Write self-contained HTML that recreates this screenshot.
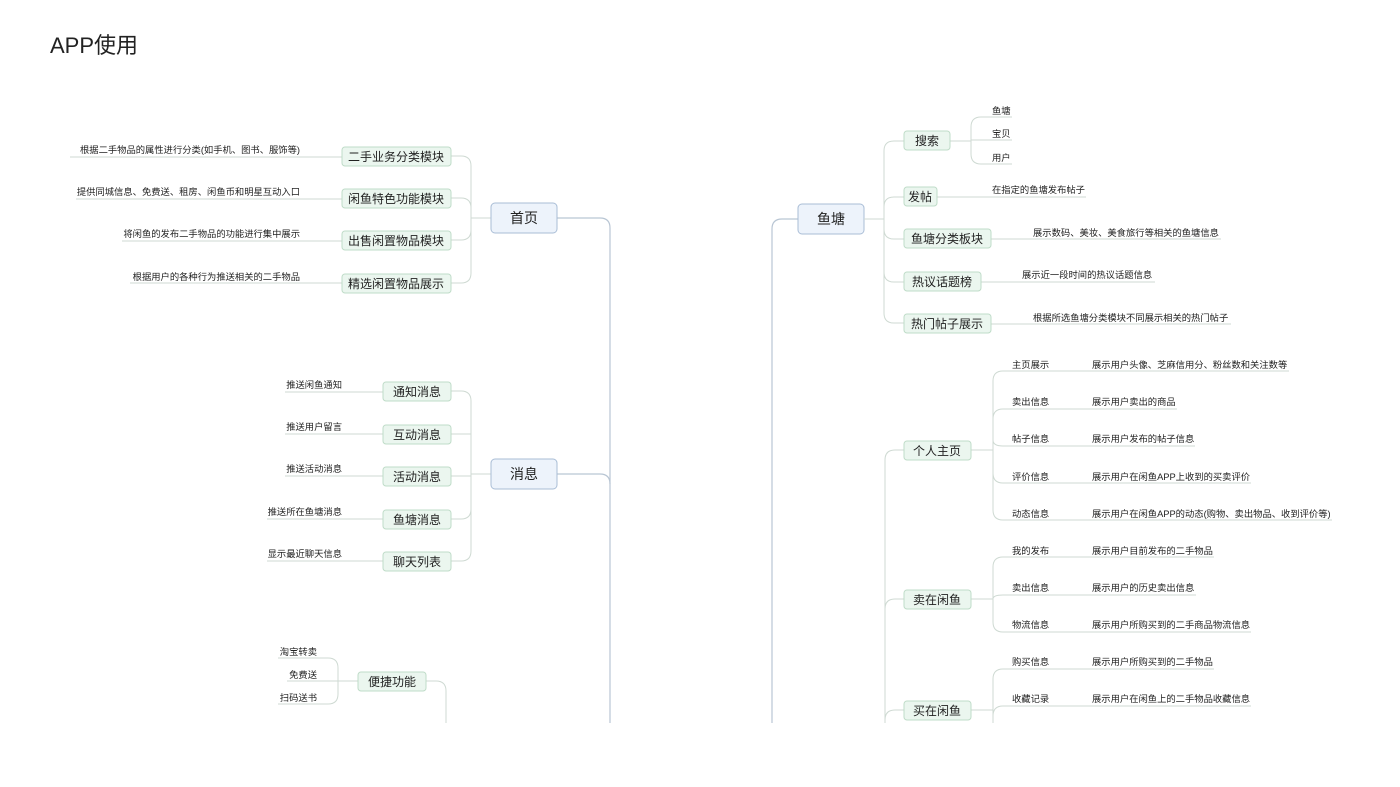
<!DOCTYPE html>
<html><head><meta charset="utf-8"><style>
html,body{margin:0;padding:0;background:#fff;width:1400px;height:787px;overflow:hidden}
svg text{font-family:"Liberation Sans","Noto Sans CJK SC",sans-serif;fill:#222}
.l{font-size:9.3px}
.n{font-size:12px}
.r{font-size:14px}
.ln{fill:none;stroke:#cfdad3;stroke-width:1}
.tk{fill:none;stroke:#b9c6d4;stroke-width:1.2}
.b{fill:#ebf6ef;stroke:#bfdcc8;stroke-width:1}
.rb{fill:#edf3fb;stroke:#a9bdd6;stroke-width:1}
</style></head><body>
<svg width="1400" height="787" viewBox="0 0 1400 787" xmlns="http://www.w3.org/2000/svg">
<text x="50" y="53" style="font-size:22px">APP使用</text>

<!-- trunks -->
<path class="tk" d="M557 218 H600 Q610 218 610 228 V723"/>
<path class="tk" d="M557 474 H600 Q610 474 610 484"/>
<path class="tk" d="M798 219 H782 Q772 219 772 229 V723"/>

<!-- 首页 group -->
<path class="ln" d="M491 218 H471 M451 156 H461 Q471 156 471 166 V273 Q471 283 461 283 H451 M451 198 H461 Q471 198 471 208 M451 240 H461 Q471 240 471 230"/>
<path class="ln" d="M70 157 H342 M76 199 H342 M122 241 H342 M130 283 H342"/>
<text class="l" x="300" y="153" text-anchor="end">根据二手物品的属性进行分类(如手机、图书、服饰等)</text>
<text class="l" x="300" y="195" text-anchor="end">提供同城信息、免费送、租房、闲鱼币和明星互动入口</text>
<text class="l" x="300" y="237" text-anchor="end">将闲鱼的发布二手物品的功能进行集中展示</text>
<text class="l" x="300" y="280" text-anchor="end">根据用户的各种行为推送相关的二手物品</text>
<rect class="b" x="342" y="147" width="109" height="19" rx="3"/><text class="n" x="396" y="161" text-anchor="middle">二手业务分类模块</text>
<rect class="b" x="342" y="189" width="109" height="19" rx="3"/><text class="n" x="396" y="203" text-anchor="middle">闲鱼特色功能模块</text>
<rect class="b" x="342" y="231" width="109" height="19" rx="3"/><text class="n" x="396" y="245" text-anchor="middle">出售闲置物品模块</text>
<rect class="b" x="342" y="274" width="109" height="19" rx="3"/><text class="n" x="396" y="288" text-anchor="middle">精选闲置物品展示</text>
<rect class="rb" x="491" y="203" width="66" height="30" rx="4"/><text class="r" x="524" y="223" text-anchor="middle">首页</text>

<!-- 消息 group -->
<path class="ln" d="M491 474 H471 M451 391 H461 Q471 391 471 401 V551 Q471 561 461 561 H451 M451 434 H471 M451 476 H471 M451 519 H461 Q471 519 471 509"/>
<path class="ln" d="M285 392 H383 M285 434 H383 M285 476 H383 M267 519 H383 M267 561 H383"/>
<text class="l" x="342" y="388" text-anchor="end">推送闲鱼通知</text>
<text class="l" x="342" y="430" text-anchor="end">推送用户留言</text>
<text class="l" x="342" y="472" text-anchor="end">推送活动消息</text>
<text class="l" x="342" y="515" text-anchor="end">推送所在鱼塘消息</text>
<text class="l" x="342" y="557" text-anchor="end">显示最近聊天信息</text>
<rect class="b" x="383" y="382" width="68" height="19" rx="3"/><text class="n" x="417" y="396" text-anchor="middle">通知消息</text>
<rect class="b" x="383" y="425" width="68" height="19" rx="3"/><text class="n" x="417" y="439" text-anchor="middle">互动消息</text>
<rect class="b" x="383" y="467" width="68" height="19" rx="3"/><text class="n" x="417" y="481" text-anchor="middle">活动消息</text>
<rect class="b" x="383" y="510" width="68" height="19" rx="3"/><text class="n" x="417" y="524" text-anchor="middle">鱼塘消息</text>
<rect class="b" x="383" y="552" width="68" height="19" rx="3"/><text class="n" x="417" y="566" text-anchor="middle">聊天列表</text>
<rect class="rb" x="491" y="459" width="66" height="30" rx="4"/><text class="r" x="524" y="479" text-anchor="middle">消息</text>

<!-- 便捷功能 -->
<path class="ln" d="M426 681 H436 Q446 681 446 691 V723"/>
<path class="ln" d="M358 681 H338 M278 658 H328 Q338 658 338 668 V694 Q338 704 328 704 H278 M287 681 H338"/>
<text class="l" x="317" y="655" text-anchor="end">淘宝转卖</text>
<text class="l" x="317" y="678" text-anchor="end">免费送</text>
<text class="l" x="317" y="701" text-anchor="end">扫码送书</text>
<rect class="b" x="358" y="672" width="68" height="19" rx="3"/><text class="n" x="392" y="686" text-anchor="middle">便捷功能</text>

<!-- 鱼塘 group -->
<rect class="rb" x="798" y="204" width="66" height="30" rx="4"/><text class="r" x="831" y="224" text-anchor="middle">鱼塘</text>
<path class="ln" d="M864 219 H884 M904 141 H894 Q884 141 884 151 V313 Q884 323 894 323 H904 M904 197 H894 Q884 197 884 207 M904 239 H894 Q884 239 884 229 M904 282 H894 Q884 282 884 272"/>
<path class="ln" d="M950 141 H971 M1012 117 H981 Q971 117 971 127 V154 Q971 164 981 164 H1012 M971 140 H1012"/>
<path class="ln" d="M937 197 H1086 M991 239 H1221 M981 282 H1155 M991 324 H1231"/>
<text class="l" x="992" y="114">鱼塘</text>
<text class="l" x="992" y="137">宝贝</text>
<text class="l" x="992" y="161">用户</text>
<text class="l" x="992" y="193">在指定的鱼塘发布帖子</text>
<text class="l" x="1033" y="236">展示数码、美妆、美食旅行等相关的鱼塘信息</text>
<text class="l" x="1022" y="278">展示近一段时间的热议话题信息</text>
<text class="l" x="1033" y="321">根据所选鱼塘分类模块不同展示相关的热门帖子</text>
<rect class="b" x="904" y="131" width="46" height="19" rx="3"/><text class="n" x="927" y="145" text-anchor="middle">搜索</text>
<rect class="b" x="904" y="187" width="33" height="19" rx="3"/><text class="n" x="920" y="201" text-anchor="middle">发帖</text>
<rect class="b" x="904" y="229" width="87" height="19" rx="3"/><text class="n" x="947" y="243" text-anchor="middle">鱼塘分类板块</text>
<rect class="b" x="904" y="272" width="77" height="19" rx="3"/><text class="n" x="942" y="286" text-anchor="middle">热议话题榜</text>
<rect class="b" x="904" y="314" width="87" height="19" rx="3"/><text class="n" x="947" y="328" text-anchor="middle">热门帖子展示</text>

<!-- 个人主页 -->
<path class="ln" d="M904 450 H895 Q885 450 885 460 V723 M904 599 H895 Q885 599 885 609 M904 710 H895 Q885 710 885 720"/>
<path class="ln" d="M971 450 H993 M1003 371 Q993 371 993 381 V510 Q993 520 1003 520 M993 419 Q993 409 1003 409 M993 440 Q993 446 1003 446 M993 473 Q993 483 1003 483"/>
<path class="ln" d="M1003 371 H1289 M1003 409 H1177 M1003 446 H1195 M1003 483 H1251 M1003 520 H1332"/>
<text class="l" x="1012" y="368">主页展示</text><text class="l" x="1092" y="368">展示用户头像、芝麻信用分、粉丝数和关注数等</text>
<text class="l" x="1012" y="405">卖出信息</text><text class="l" x="1092" y="405">展示用户卖出的商品</text>
<text class="l" x="1012" y="442">帖子信息</text><text class="l" x="1092" y="442">展示用户发布的帖子信息</text>
<text class="l" x="1012" y="480">评价信息</text><text class="l" x="1092" y="480">展示用户在闲鱼APP上收到的买卖评价</text>
<text class="l" x="1012" y="517">动态信息</text><text class="l" x="1092" y="517">展示用户在闲鱼APP的动态(购物、卖出物品、收到评价等)</text>
<rect class="b" x="904" y="441" width="67" height="19" rx="3"/><text class="n" x="937" y="455" text-anchor="middle">个人主页</text>

<!-- 卖在闲鱼 -->
<path class="ln" d="M971 599 H993 M1003 557 Q993 557 993 567 V622 Q993 632 1003 632 M993 599 Q993 595 1003 595"/>
<path class="ln" d="M1003 557 H1214 M1003 595 H1196 M1003 632 H1251"/>
<text class="l" x="1012" y="554">我的发布</text><text class="l" x="1092" y="554">展示用户目前发布的二手物品</text>
<text class="l" x="1012" y="591">卖出信息</text><text class="l" x="1092" y="591">展示用户的历史卖出信息</text>
<text class="l" x="1012" y="628">物流信息</text><text class="l" x="1092" y="628">展示用户所购买到的二手商品物流信息</text>
<rect class="b" x="904" y="590" width="67" height="19" rx="3"/><text class="n" x="937" y="604" text-anchor="middle">卖在闲鱼</text>

<!-- 买在闲鱼 -->
<path class="ln" d="M971 710 H993 M1003 669 Q993 669 993 679 V723 M993 716 Q993 706 1003 706"/>
<path class="ln" d="M1003 669 H1214 M1003 706 H1251"/>
<text class="l" x="1012" y="665">购买信息</text><text class="l" x="1092" y="665">展示用户所购买到的二手物品</text>
<text class="l" x="1012" y="702">收藏记录</text><text class="l" x="1092" y="702">展示用户在闲鱼上的二手物品收藏信息</text>
<rect class="b" x="904" y="701" width="67" height="19" rx="3"/><text class="n" x="937" y="715" text-anchor="middle">买在闲鱼</text>
</svg>
</body></html>
